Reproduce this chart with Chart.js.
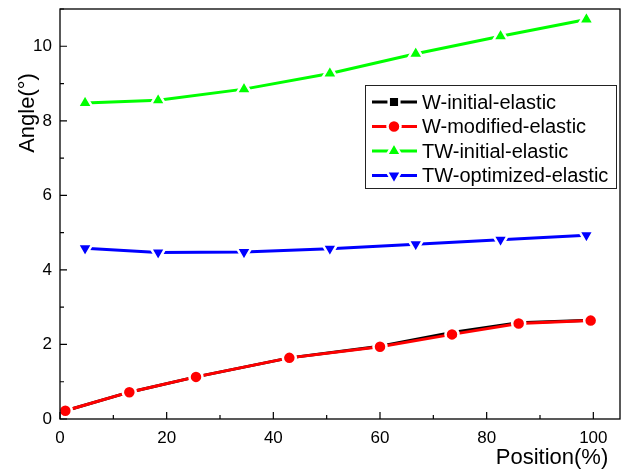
<!DOCTYPE html>
<html>
<head>
<meta charset="utf-8">
<script src="https://cdn.jsdelivr.net/npm/chart.js@4.4.0/dist/chart.umd.min.js"></script>
<style>
html, body { margin: 0; padding: 0; background: #fff; }
</style>
</head>
<body>
<canvas id="chart" width="627" height="472"></canvas>
<script>
// positions (%) and angles
const posW = [1, 13, 25.5, 43, 60, 73.5, 86, 99.5];
const wInitial = [0.22, 0.72, 1.13, 1.64, 1.95, 2.32, 2.58, 2.65];
const wModified = [0.22, 0.72, 1.13, 1.64, 1.94, 2.27, 2.56, 2.64];
const posTW = [4.7, 18.4, 34.5, 50.6, 66.7, 82.6, 98.7];
const twInitial = [8.48, 8.55, 8.85, 9.27, 9.8, 10.27, 10.72];
const twOptimized = [4.58, 4.47, 4.48, 4.57, 4.69, 4.81, 4.93];

const seriesLabels = ["W-initial-elastic", "W-modified-elastic", "TW-initial-elastic", "TW-optimized-elastic"];
const xTitle = "Position(%)";
const yTitle = "Angle(°)";

const FONT = "'Liberation Sans', Arial, sans-serif";

const toPoints = (xs, ys) => xs.map((x, i) => ({ x: x, y: ys[i] }));

// common style for one series
const makeSet = (label, data, color, style, radius, rotation, order) => ({
    label: label,
    data: data,
    borderColor: color,
    backgroundColor: color,
    borderWidth: 3,
    pointStyle: style,
    pointRadius: radius,
    pointRotation: rotation,
    pointBackgroundColor: color,
    pointBorderColor: "#fff",
    pointBorderWidth: 2.5,
    pointHoverRadius: radius,
    tension: 0,
    order: order,
});

// no extra padding from the scales, the plot box is fixed
const fixBox = (s, size) => {
    if (s.isHorizontal()) s.height = size;
    else s.width = size;
    s.paddingTop = 0;
    s.paddingBottom = 0;
    s.paddingLeft = 0;
    s.paddingRight = 0;
};

// inward ticks, box frame, axis titles and legend
const decorPlugin = {
    id: "decor",
    afterDraw(chart) {
        const ctx = chart.ctx;
        const a = chart.chartArea;
        const xs = chart.scales.x;
        const ys = chart.scales.y;
        ctx.save();
        ctx.strokeStyle = "#000";
        ctx.lineWidth = 1.3;
        ctx.strokeRect(a.left, a.top, a.right - a.left, a.bottom - a.top);

        ctx.lineWidth = 1.2;
        ctx.beginPath();
        for (let v = 0; v <= 100; v += 10) {
            const px = xs.getPixelForValue(v);
            const len = v % 20 === 0 ? 7 : 4;
            ctx.moveTo(px, a.bottom);
            ctx.lineTo(px, a.bottom - len);
        }
        for (let v = 0; v <= 11; v += 1) {
            const py = ys.getPixelForValue(v);
            const len = v % 2 === 0 ? 7 : 4;
            ctx.moveTo(a.left, py);
            ctx.lineTo(a.left + len, py);
        }
        ctx.stroke();

        // axis titles
        ctx.fillStyle = "#000";
        ctx.font = "22px " + FONT;
        ctx.textAlign = "center";
        ctx.textBaseline = "middle";
        ctx.fillText(xTitle, 552, 458);
        ctx.save();
        ctx.translate(28, 113);
        ctx.rotate(-Math.PI / 2);
        ctx.fillText(yTitle, 0, 0);
        ctx.restore();

        // legend
        const bx = 365, by = 85, bw = 251, bh = 103;
        ctx.fillStyle = "#fff";
        ctx.fillRect(bx, by, bw, bh);
        ctx.strokeStyle = "#222";
        ctx.lineWidth = 1;
        ctx.strokeRect(bx + 0.5, by + 0.5, bw, bh);
        ctx.font = "20px " + FONT;
        ctx.textAlign = "left";
        chart.data.datasets.forEach((ds, i) => {
            const y = 102 + i * 24.5;
            ctx.strokeStyle = ds.borderColor;
            ctx.lineWidth = 3;
            ctx.beginPath();
            ctx.moveTo(372, y);
            ctx.lineTo(417, y);
            ctx.stroke();
            ctx.fillStyle = ds.pointBackgroundColor;
            ctx.strokeStyle = "#fff";
            ctx.lineWidth = 2.5;
            Chart.helpers.drawPoint(ctx, {
                pointStyle: ds.pointStyle,
                radius: ds.pointRadius,
                rotation: ds.pointRotation,
                borderWidth: 2.5,
            }, 394, y);
            ctx.fillStyle = "#000";
            ctx.fillText(ds.label, 422, y + 1);
        });
        ctx.restore();
    },
};

const ctx = document.getElementById("chart").getContext("2d");
const chart = new Chart(ctx, {
    type: "line",
    data: {
        datasets: [
            makeSet(seriesLabels[0], toPoints(posW, wInitial), "#000000", "rect", 7.5, 0, 1),
            makeSet(seriesLabels[1], toPoints(posW, wModified), "#ff0000", "circle", 6.5, 0, 0),
            makeSet(seriesLabels[2], toPoints(posTW, twInitial), "#00ff00", "triangle", 8.5, 0, 0),
            makeSet(seriesLabels[3], toPoints(posTW, twOptimized), "#0000ff", "triangle", 8.5, 180, 0),
        ],
    },
    options: {
        responsive: false,
        animation: false,
        devicePixelRatio: 1,
        layout: { autoPadding: false, padding: { top: 9, right: 7, left: 0, bottom: 0 } },
        plugins: {
            legend: { display: false },
            tooltip: { enabled: false },
        },
        scales: {
            x: {
                type: "linear",
                min: 0,
                max: 105,
                grid: { display: false, drawTicks: false },
                border: { display: false },
                ticks: {
                    stepSize: 20,
                    includeBounds: false,
                    autoSkip: false,
                    maxRotation: 0,
                    padding: 9,
                    color: "#000",
                    font: { size: 17, family: FONT },
                },
                afterFit: (s) => fixBox(s, 53),
            },
            y: {
                min: 0,
                max: 11,
                grid: { display: false, drawTicks: false },
                border: { display: false },
                ticks: {
                    stepSize: 2,
                    includeBounds: false,
                    autoSkip: false,
                    padding: 8,
                    color: "#000",
                    font: { size: 17, family: FONT },
                },
                afterFit: (s) => fixBox(s, 60),
            },
        },
    },
    plugins: [decorPlugin],
});
</script>
</body>
</html>
